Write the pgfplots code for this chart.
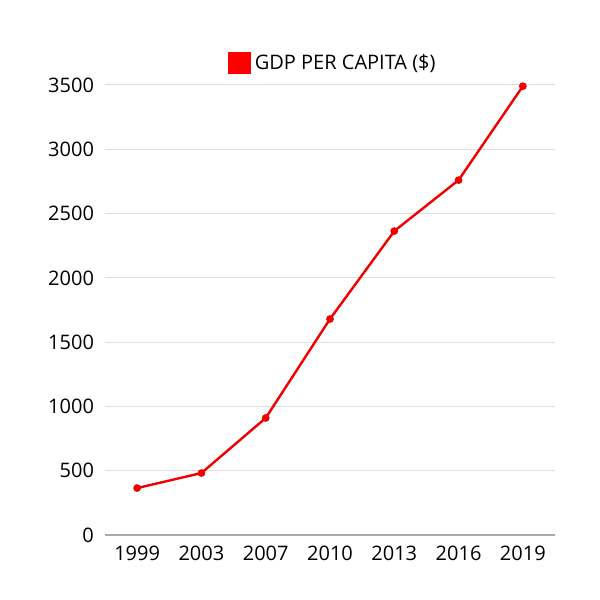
\documentclass[border=0pt]{standalone}
\usepackage{fontspec}
\setmainfont{Open Sans}
\usepackage{pgfplots}
\pgfplotsset{compat=1.18}
\definecolor{gridc}{HTML}{DDDDDD}
\definecolor{axc}{HTML}{AAAAAA}
\definecolor{lred}{HTML}{F00000}
\begin{document}
\begin{tikzpicture}
\useasboundingbox (-52.5pt,-32.5pt) rectangle (247.5pt,267.5pt);
\begin{axis}[
  at={(0,0)}, anchor=south west,
  scale only axis, width=225pt, height=225pt,
  xmin=-0.5, xmax=6.5, ymin=0, ymax=3500,
  xtick={0,1,2,3,4,5,6},
  xticklabels={1999,2003,2007,2010,2013,2016,2019},
  ytick={0,500,1000,1500,2000,2500,3000,3500},
  /pgf/number format/1000 sep={},
  ymajorgrids, grid style={gridc, line width=0.5pt},
  axis line style={draw=none},
  major tick length=0pt,
  tick label style={font=\fontsize{10}{12}\selectfont},
  /pgf/number format/assume math mode=true,
  yticklabel style={xshift=-2pt},
  xticklabel style={yshift=-2pt},
  legend style={draw=none, at={(0.5,1)}, anchor=center, yshift=11pt, xshift=2pt,
    font=\fontsize{10}{12}\selectfont, inner sep=0pt},
  legend image code/.code={\fill[red] (0pt,-5pt) rectangle (10pt,5pt);},
  legend cell align=left,
]
\draw[axc, line width=0.6pt] (rel axis cs:0,0) -- (rel axis cs:1,0);
\addplot[lred, line width=1.2pt, mark=*, mark size=1.3pt, mark options={fill=lred}]
  coordinates {(0,365) (1,482) (2,910) (3,1680) (4,2364) (5,2760) (6,3491)};
\addlegendentry{GDP PER CAPITA (\$)}
\end{axis}
\end{tikzpicture}
\end{document}
